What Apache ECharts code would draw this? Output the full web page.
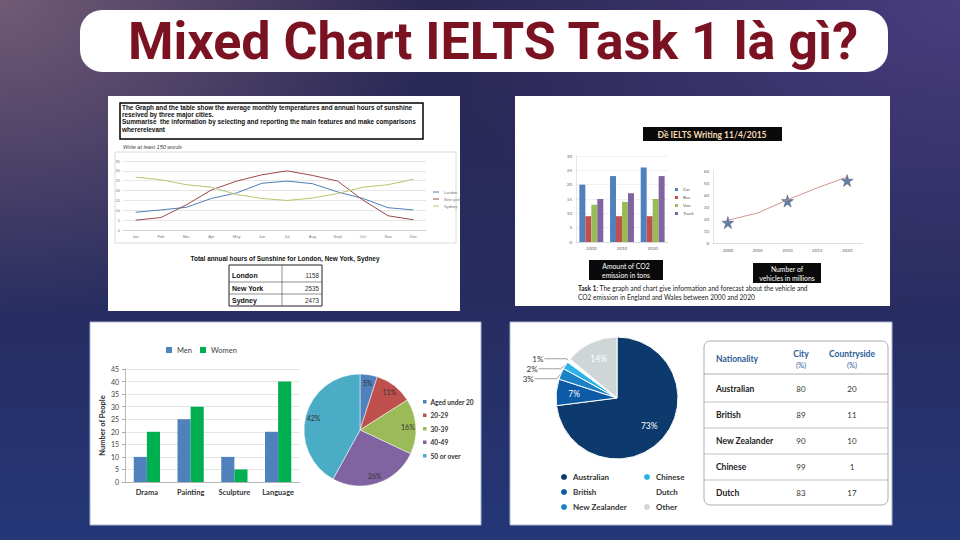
<!DOCTYPE html>
<html><head><meta charset="utf-8">
<script src="https://cdn.jsdelivr.net/npm/echarts@6/dist/echarts.min.js"></script>
<style>
html,body{margin:0;padding:0;width:960px;height:540px;overflow:hidden;
background:
 radial-gradient(ellipse 430px 320px at 0% 0%, rgba(125,100,125,0.85), rgba(125,100,125,0) 100%),
 radial-gradient(ellipse 520px 320px at 100% 0%, rgba(85,70,145,0.7), rgba(85,70,145,0) 100%),
 linear-gradient(180deg,#2b2752 0%,#272c60 55%,#243777 100%);}
#c{width:960px;height:540px;}
</style></head><body><div id="c"></div>
<script>
// ---- Data ----
const months = ['Jan','Feb','Mar','Apr','May','Jun','Jul','Aug','Sept','Oct','Nov','Dec'];
const london = [9, 10.2, 11.5, 16, 18.8, 23.7, 24.8, 23.5, 19.3, 16, 11.3, 10.2];
const newYork = [5, 6.3, 12.7, 20.3, 24.8, 28, 30, 27.7, 24.8, 15.2, 7.2, 5.2];
const sydney = [26.8, 25.5, 23, 21.7, 18, 16, 15, 16.2, 18.5, 21.7, 23, 25.7];
const sunCities = ['London','New York','Sydney'];
const sunHours = [1158, 2535, 2473];

const co2Years = ['2000','2010','2020'];
const car = [20, 23, 26];
const bus = [9, 9, 9];
const van = [13, 14, 15];
const truck = [15, 17, 23];

const vehicleYears = ['2000','2005','2010','2015','2020'];
const vehicleTrend = [19, 25, 36, 46, 55];
const vehicleForecast = [17, null, 35, null, 52];

const courses = ['Drama','Painting','Sculpture','Language'];
const men = [10, 25, 10, 20];
const women = [20, 30, 5, 40];

const ageGroups = ['Aged under 20','20-29','30-39','40-49','50 or over'];
const agePct = [5, 11, 16, 26, 42];

const nationalities = ['Australian','British','New Zealander','Chinese','Dutch','Other'];
const nationPct = [73, 7, 3, 2, 1, 14];

const tableNations = ['Australian','British','New Zealander','Chinese','Dutch'];
const cityPct = [80, 89, 90, 99, 83];
const countrysidePct = [20, 11, 10, 1, 17];

// ---- Styles ----
const XL = {blue:'#4F81BD', red:'#C0504D', green:'#9BBB59', purple:'#8064A2', cyan:'#4BACC6'};
const ageColors = [XL.blue, XL.red, XL.green, XL.purple, XL.cyan];
const nationColors = ['#0c3a6c','#0d5aa6','#1d82c5','#29b3e8','#ffffff','#cfd6d8'];
const starPath = 'path://M50,0 L61,35 L98,35 L68,57 L79,91 L50,70 L21,91 L32,57 L2,35 L39,35 Z';
const tinyAxisLabel = (m) => ({fontSize:4, color:'#777', fontFamily:'Liberation Sans', margin:m});
const smallAxisLabel = (m) => ({fontSize:4.5, color:'#666', fontFamily:'Lato', margin:m});
const lightLine = {lineStyle:{color:'#c8c8c8', width:0.6}};

const chart = echarts.init(document.getElementById('c'), null, {renderer:'svg', width:960, height:540});

// ---- Graphic (panels, texts, tables) ----
const G = [];
// title banner
G.push({type:'rect', z:0, shape:{x:80,y:10,width:808,height:62,r:22}, style:{fill:'#fff'}});
G.push({type:'text', z:10, x:493, y:41.5, style:{text:'Mixed Chart IELTS Task 1 là gì?', fontFamily:'Roboto', fontWeight:'bold', fontSize:52, fill:'#7b1222', align:'center', verticalAlign:'middle'}});
// panels
G.push({type:'rect', z:0, shape:{x:108,y:96,width:352,height:215}, style:{fill:'#fff'}});
G.push({type:'rect', z:0, shape:{x:515,y:96,width:375,height:210}, style:{fill:'#fff'}});
G.push({type:'rect', z:0, shape:{x:90,y:322,width:391,height:203}, style:{fill:'#fff', stroke:'#a9b7cf', lineWidth:1}});
G.push({type:'rect', z:0, shape:{x:510,y:322,width:382,height:203}, style:{fill:'#fff', stroke:'#a9b7cf', lineWidth:1}});

// panel 1 texts
G.push({type:'rect', z:1, shape:{x:120,y:103,width:303,height:36}, style:{fill:'none', stroke:'#000', lineWidth:1.5}});
const p1Lines = ['The Graph and the table show the average monthly temperatures and annual hours of sunshine',
 'reseived by three major cities.',
 'Summarise  the information by selecting and reporting the main features and make comparisons',
 'whererelevant'];
p1Lines.forEach((t,i)=>G.push({type:'text', z:10, x:122, y:107.5+i*7.2, style:{text:t, fontFamily:'Liberation Sans', fontWeight:'bold', fontSize:6.4, fill:'#111', verticalAlign:'middle'}}));
G.push({type:'text', z:10, x:123, y:147, style:{text:'Write at least 150 words', fontFamily:'Liberation Sans', fontStyle:'italic', fontSize:5.5, fill:'#444', verticalAlign:'middle'}});
G.push({type:'rect', z:1, shape:{x:115,y:152,width:341,height:91}, style:{fill:'none', stroke:'#d3d3d3', lineWidth:0.8}});
G.push({type:'text', z:10, x:285, y:258, style:{text:'Total annual hours of Sunshine for London, New York, Sydney', fontFamily:'Liberation Sans', fontWeight:'bold', fontSize:6.4, fill:'#111', align:'center', verticalAlign:'middle'}});
G.push({type:'rect', z:1, shape:{x:229,y:265,width:93,height:41}, style:{fill:'none', stroke:'#222', lineWidth:1}});
G.push({type:'line', z:1, shape:{x1:282,y1:265,x2:282,y2:306}, style:{stroke:'#444', lineWidth:0.6}});
G.push({type:'line', z:1, shape:{x1:229,y1:282,x2:322,y2:282}, style:{stroke:'#444', lineWidth:0.6}});
G.push({type:'line', z:1, shape:{x1:229,y1:294,x2:322,y2:294}, style:{stroke:'#444', lineWidth:0.6}});
const sunRowY = [275.5, 288.3, 300];
sunCities.forEach((c,i)=>{
  G.push({type:'text', z:10, x:232, y:sunRowY[i], style:{text:c, fontFamily:'Liberation Sans', fontWeight:'bold', fontSize:7, fill:'#111', verticalAlign:'middle'}});
  G.push({type:'text', z:10, x:319, y:sunRowY[i], style:{text:String(sunHours[i]), fontFamily:'Liberation Sans', fontSize:6.3, fill:'#333', align:'right', verticalAlign:'middle'}});
});

// panel 2 texts
G.push({type:'rect', z:1, shape:{x:643,y:127,width:139,height:14}, style:{fill:'#0a0a0a'}});
G.push({type:'text', z:10, x:712, y:134.5, style:{text:'Đề IELTS Writing 11/4/2015', fontFamily:'Lato', fontWeight:'bold', fontSize:8.5, fill:'#f4dcb6', align:'center', verticalAlign:'middle'}});
G.push({type:'rect', z:1, shape:{x:589,y:260,width:74,height:20}, style:{fill:'#0a0a0a'}});
G.push({type:'text', z:10, x:626, y:265.5, style:{text:'Amount of CO2', fontFamily:'Lato', fontSize:6.8, fill:'#fff', align:'center', verticalAlign:'middle'}});
G.push({type:'text', z:10, x:626, y:274.5, style:{text:'emission in tons', fontFamily:'Lato', fontSize:6.8, fill:'#fff', align:'center', verticalAlign:'middle'}});
G.push({type:'rect', z:1, shape:{x:753,y:263,width:68,height:20}, style:{fill:'#0a0a0a'}});
G.push({type:'text', z:10, x:787, y:269, style:{text:'Number of', fontFamily:'Lato', fontSize:6.8, fill:'#fff', align:'center', verticalAlign:'middle'}});
G.push({type:'text', z:10, x:787, y:278, style:{text:'vehicles in millions', fontFamily:'Lato', fontSize:6.8, fill:'#fff', align:'center', verticalAlign:'middle'}});
G.push({type:'text', z:10, x:578, y:288, style:{text:'{b|Task 1}: The graph and chart give information and forecast about the vehicle and', fontFamily:'Lato', fontSize:6.6, fill:'#222', verticalAlign:'middle', rich:{b:{fontWeight:'bold', fontFamily:'Lato', fontSize:6.6, fill:'#222'}}}});
G.push({type:'text', z:10, x:578, y:297, style:{text:'CO2 emission in England and Wales between 2000 and 2020', fontFamily:'Lato', fontSize:6.6, fill:'#222', verticalAlign:'middle'}});

// panel 4 table
G.push({type:'rect', z:1, shape:{x:704,y:341,width:184,height:164,r:6}, style:{fill:'none', stroke:'#9a9a9a', lineWidth:0.8}});
const hdr = {fontFamily:'Lato', fontWeight:'bold', fontSize:8.5, fill:'#2d5b94', verticalAlign:'middle'};
G.push({type:'text', z:10, x:716, y:359, style:Object.assign({text:'Nationality'}, hdr)});
G.push({type:'text', z:10, x:801, y:354, style:Object.assign({text:'City', align:'center'}, hdr)});
G.push({type:'text', z:10, x:801, y:365, style:Object.assign({text:'(%)', align:'center'}, hdr, {fontWeight:'normal', fontSize:7.5})});
G.push({type:'text', z:10, x:852, y:354, style:Object.assign({text:'Countryside', align:'center'}, hdr)});
G.push({type:'text', z:10, x:852, y:365, style:Object.assign({text:'(%)', align:'center'}, hdr, {fontWeight:'normal', fontSize:7.5})});
G.push({type:'line', z:1, shape:{x1:704,y1:374,x2:888,y2:374}, style:{stroke:'#9a9a9a', lineWidth:0.8}});
tableNations.forEach((n,i)=>{
  const y = 389 + i*26;
  if (i>0) G.push({type:'line', z:1, shape:{x1:704,y1:y-13,x2:888,y2:y-13}, style:{stroke:'#aaa', lineWidth:0.7}});
  G.push({type:'text', z:10, x:716, y:y, style:{text:n, fontFamily:'Lato', fontWeight:'bold', fontSize:8.5, fill:'#222', verticalAlign:'middle'}});
  G.push({type:'text', z:10, x:801, y:y, style:{text:String(cityPct[i]), fontFamily:'Lato', fontSize:8, fill:'#333', align:'center', verticalAlign:'middle'}});
  G.push({type:'text', z:10, x:852, y:y, style:{text:String(countrysidePct[i]), fontFamily:'Lato', fontSize:8, fill:'#333', align:'center', verticalAlign:'middle'}});
});

// ---- Pie data ----
const ageData = ageGroups.map((n,i)=>({name:n, value:agePct[i], itemStyle:{color:ageColors[i]}}));
const nationData = nationalities.map((n,i)=>{
  const small = nationPct[i] < 5;
  return {name:n, value:nationPct[i], itemStyle:{color:nationColors[i]},
    label:{show:small}, labelLine:{show:small}};
});
const nationOverlay = nationalities.map((n,i)=>({name:n, value:nationPct[i], label:{show:nationPct[i] >= 5}}));

const option = {
  animation:false,
  textStyle:{fontFamily:'Lato'},
  graphic:{elements:G},
  grid:[
    {left:123, top:161, width:303, height:69},
    {left:576, top:156, width:92, height:86},
    {left:713, top:171, width:149, height:72},
    {left:125, top:369, width:175, height:113}
  ],
  xAxis:[
    {gridIndex:0, type:'category', data:months, axisLine:lightLine, axisTick:{length:2, lineStyle:{color:'#c8c8c8', width:0.6}}, axisLabel:Object.assign(tinyAxisLabel(4), {interval:0})},
    {gridIndex:1, type:'category', data:co2Years, axisLine:lightLine, axisTick:{show:false}, axisLabel:Object.assign(smallAxisLabel(4), {interval:0})},
    {gridIndex:2, type:'category', data:vehicleYears, axisLine:lightLine, axisTick:{show:false}, axisLabel:Object.assign(smallAxisLabel(5), {interval:0})},
    {gridIndex:3, type:'category', data:courses, axisLine:{lineStyle:{color:'#aaa', width:0.8}}, axisTick:{length:3, lineStyle:{color:'#aaa'}}, axisLabel:{interval:0, fontSize:7.5, fontWeight:'bold', color:'#333', margin:6}}
  ],
  yAxis:[
    {gridIndex:0, type:'value', min:0, max:35, interval:5, splitLine:{lineStyle:{color:'#d6d6d6', width:0.6}}, axisLabel:tinyAxisLabel(3)},
    {gridIndex:1, type:'value', min:0, max:30, interval:5, splitLine:{lineStyle:{color:'#e2e2e2', width:0.5}}, axisLine:{show:true, lineStyle:{color:'#ccc', width:0.5}}, axisLabel:smallAxisLabel(4)},
    {gridIndex:2, type:'value', min:0, max:60, interval:10, splitLine:{show:false}, axisLine:{show:true, lineStyle:{color:'#ccc', width:0.6}}, axisLabel:smallAxisLabel(4)},
    {gridIndex:3, type:'value', min:0, max:45, interval:5, name:'Number of People', nameLocation:'middle', nameGap:18,
      nameTextStyle:{fontWeight:'bold', fontSize:7.5, color:'#333'},
      splitLine:{lineStyle:{color:'#d9d9d9', width:0.7}}, axisLine:{show:true, lineStyle:{color:'#aaa', width:0.8}}, axisTick:{show:true, length:3, lineStyle:{color:'#aaa'}},
      axisLabel:{fontSize:7, color:'#444', margin:6}}
  ],
  legend:[
    {left:433, top:190, orient:'vertical', padding:0, data:['London','New york','Sydney'], icon:'rect', itemWidth:6, itemHeight:1, itemGap:3, textStyle:{fontSize:4, color:'#777', fontFamily:'Liberation Sans'}},
    {left:675, top:187, orient:'vertical', padding:0, data:['Car','Bus','Van','Truck'], icon:'rect', itemWidth:3, itemHeight:3, itemGap:3, textStyle:{fontSize:4.5, color:'#555'}},
    {left:166, top:346, orient:'horizontal', padding:0, data:['Men','Women'], icon:'rect', itemWidth:6, itemHeight:6, itemGap:8, textStyle:{fontSize:7.5, color:'#444'}},
    {left:421, top:398, orient:'vertical', padding:0, data:ageGroups, icon:'rect', itemWidth:5.5, itemHeight:5.5, itemGap:6, itemStyle:{}, textStyle:{fontSize:6.6, fontWeight:'bold', color:'#333', padding:[0,0,0,-2]}},
    {left:559, top:472, orient:'vertical', padding:0, data:nationalities.slice(0,3), icon:'circle', itemWidth:8, itemHeight:8, itemGap:5, textStyle:{fontSize:8, fontWeight:'bold', color:'#333'}},
    {left:642, top:472, orient:'vertical', padding:0, data:nationalities.slice(3), icon:'circle', itemWidth:8, itemHeight:8, itemGap:5, textStyle:{fontSize:8, fontWeight:'bold', color:'#333'}}
  ],
  series:[
    {name:'London', type:'line', xAxisIndex:0, yAxisIndex:0, data:london, symbol:'none', color:'#4F7FB8', lineStyle:{width:1}},
    {name:'New york', type:'line', xAxisIndex:0, yAxisIndex:0, data:newYork, symbol:'none', color:'#9A4848', lineStyle:{width:1}},
    {name:'Sydney', type:'line', xAxisIndex:0, yAxisIndex:0, data:sydney, symbol:'none', color:'#B9C46E', lineStyle:{width:1}},

    {name:'Car', type:'bar', xAxisIndex:1, yAxisIndex:1, data:car, color:XL.blue, barGap:'0%', barCategoryGap:'22%'},
    {name:'Bus', type:'bar', xAxisIndex:1, yAxisIndex:1, data:bus, color:XL.red},
    {name:'Van', type:'bar', xAxisIndex:1, yAxisIndex:1, data:van, color:XL.green},
    {name:'Truck', type:'bar', xAxisIndex:1, yAxisIndex:1, data:truck, color:XL.purple},

    {name:'Vehicles', type:'line', xAxisIndex:2, yAxisIndex:2, data:vehicleTrend, symbol:'none', color:'#c98c82', lineStyle:{width:0.9}},
    {name:'Forecast', type:'scatter', xAxisIndex:2, yAxisIndex:2, data:vehicleForecast, symbol:starPath, symbolSize:12, itemStyle:{color:'#3e5f8a', borderColor:'#2c4468', borderWidth:0.5}},

    {name:'Men', type:'bar', xAxisIndex:3, yAxisIndex:3, data:men, color:'#4F81BD', barGap:'0%', barCategoryGap:'40%'},
    {name:'Women', type:'bar', xAxisIndex:3, yAxisIndex:3, data:women, color:'#00B050'},

    {name:'Age', type:'pie', center:[360,430], radius:56, startAngle:90, clockwise:true, data:ageData, label:{show:false}, labelLine:{show:false},
      itemStyle:{borderColor:'#fff', borderWidth:0.5}},
    {name:'Age labels', type:'pie', center:[360,430], radius:90, startAngle:90, clockwise:true, legendHoverLink:false, silent:true,
      data:ageGroups.map((n,i)=>({name:n, value:agePct[i]})),
      itemStyle:{color:'rgba(0,0,0,0)', borderWidth:0},
      label:{show:true, position:'inside', formatter:'{c}%', fontSize:7, color:'#333'}, labelLine:{show:false}},

    {name:'Nationality', type:'pie', center:[617,398], radius:61, startAngle:90, clockwise:true, data:nationData,
      itemStyle:{borderColor:'#fff', borderWidth:1},
      label:{position:'outside', formatter:'{c}%', fontSize:8, color:'#333', distanceToLabelLine:1},
      labelLine:{length:3, length2:22, lineStyle:{color:'#888', width:0.8}}},
    {name:'Nationality labels', type:'pie', center:[617,398], radius:80, startAngle:90, clockwise:true, legendHoverLink:false, silent:true,
      data:nationOverlay,
      itemStyle:{color:'rgba(0,0,0,0)', borderWidth:0},
      label:{position:'inside', formatter:'{c}%', fontSize:8.5, color:'#fff'}, labelLine:{show:false}}
  ]
};
chart.setOption(option);
</script>
</body></html>
